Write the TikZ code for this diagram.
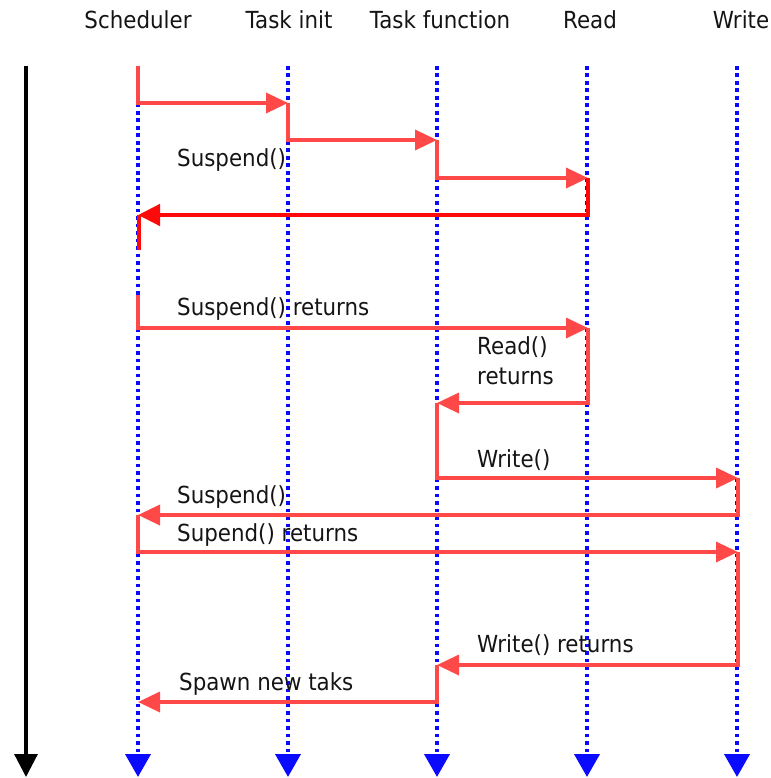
\documentclass[tikz,border=0pt]{standalone}
\usepackage{fontspec}
\setmainfont{DejaVu Sans}[FakeStretch=0.91]
\usetikzlibrary{arrows.meta}
\definecolor{msgred}{RGB}{255,72,72}
\definecolor{msgdark}{RGB}{255,10,10}
\definecolor{lifeblue}{RGB}{10,10,255}
\begin{document}
\begin{tikzpicture}[x=1pt,y=-1pt,
  txt/.style={font=\fontsize{23.5}{27}\selectfont, inner sep=0pt, text=black!92},
  hdr/.style={txt, anchor=base},
  lbl/.style={txt, anchor=base west},
  lifeline/.style={draw=lifeblue, line width=4pt, dash pattern=on 3.8pt off 3.7pt,
    -{Triangle[length=23pt,width=25pt]}},
  timeline/.style={draw=black, line width=3.2pt, -{Triangle[length=23pt,width=23pt]}},
  msgarrow/.style={draw=msgred, line width=3.5pt, line join=miter,
    -{Triangle[length=22pt,width=20pt]}},
  msgstrong/.style={draw=msgdark, line width=4.5pt, line join=miter,
    -{Triangle[length=22pt,width=21pt]}},
  msgtail/.style={draw=msgdark, line width=4.5pt}
]
\useasboundingbox (0,0) rectangle (770,778);

% headers
\node[hdr] (hS) at (138,29) {Scheduler};
\node[hdr] (hI) at (289,29) {Task init};
\node[hdr] (hF) at (440,29) {Task function};
\node[hdr] (hR) at (590,29) {Read};
\node[hdr] (hW) at (741,29) {Write};

% lifeline ends
\coordinate (tT) at (26,66);  \coordinate (bT) at (26,777);
\coordinate (tS) at (138,66); \coordinate (bS) at (138,777);
\coordinate (tI) at (288,66); \coordinate (bI) at (288,777);
\coordinate (tF) at (437,66); \coordinate (bF) at (437,777);
\coordinate (tR) at (587,66); \coordinate (bR) at (587,777);
\coordinate (tW) at (737,66); \coordinate (bW) at (737,777);

\draw[timeline] (tT) -- (bT);
\foreach \l in {S,I,F,R,W} \draw[lifeline] (t\l) -- (b\l);

% message points
\coordinate (m1) at (288,103);
\coordinate (m2) at (437,140);
\coordinate (m3) at (588,178);
\coordinate (m4) at (138,215);
\coordinate (m4e) at (139,250);
\coordinate (n0) at (138,295);
\coordinate (n1) at (588,328);
\coordinate (n2) at (437,403);
\coordinate (n3) at (738,478);
\coordinate (n4) at (138,515);
\coordinate (n5) at (738,552);
\coordinate (n6) at (437,665);
\coordinate (n7) at (138,702);

\draw[msgarrow] (tS) |- (m1);
\draw[msgarrow] (m1) |- (m2);
\draw[msgarrow] (m2) |- (m3);
\draw[msgstrong] (m3) |- (m4);
\draw[msgtail] (m4e |- m4) -- (m4e);

\draw[msgarrow] (n0) |- (n1);
\draw[msgarrow] (n1) |- (n2);
\draw[msgarrow] (n2) |- (n3);
\draw[msgarrow] (n3) |- (n4);
\draw[msgarrow] (n4) |- (n5);
\draw[msgarrow] (n5) |- (n6);
\draw[msgarrow] (n6) |- (n7);

% labels
\node[lbl] (l1) at (177,167) {Suspend()};
\node[lbl] (l2) at (177,315) {Suspend() returns};
\node[lbl] (l3) at (477,354) {Read()};
\node[lbl] (l4) at (477,384) {returns};
\node[lbl] (l5) at (477,467) {Write()};
\node[lbl] (l6) at (177,503) {Suspend()};
\node[lbl] (l7) at (177,541) {Supend() returns};
\node[lbl] (l8) at (477,652) {Write() returns};
\node[lbl] (l9) at (179,690) {Spawn new taks};
\end{tikzpicture}
\end{document}
